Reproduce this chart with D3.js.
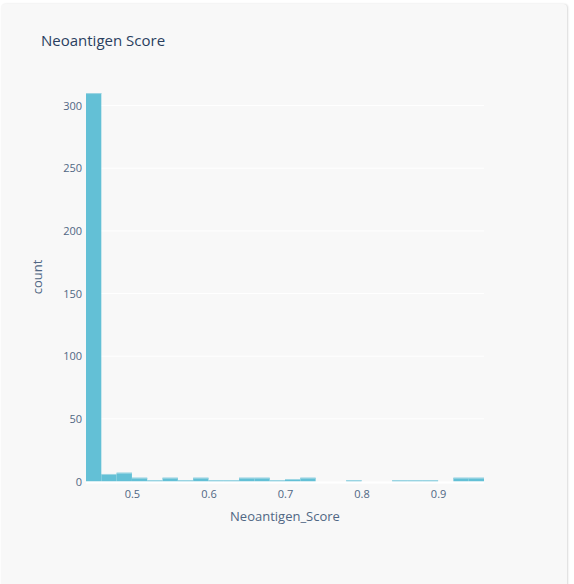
<!DOCTYPE html>
<html>
<head>
<meta charset="utf-8">
<script src="https://cdn.jsdelivr.net/npm/d3@7"></script>
<style>
  body { margin: 0; background: #fff; font-family: "Open Sans", sans-serif; }
  #card {
    position: absolute; left: 1px; top: 4px; width: 566px; height: 590px;
    background: #f8f8f8; border-radius: 4px;
    box-shadow: 1px 0 2px rgba(0,0,0,0.15);
  }
</style>
</head>
<body>
<div id="card"></div>
<script>
// histogram bins of Neoantigen_Score (bin width 0.02)
const binStart = [0.44,0.46,0.48,0.50,0.52,0.54,0.56,0.58,0.60,0.62,0.64,0.66,0.68,
                  0.70,0.72,0.74,0.76,0.78,0.80,0.82,0.84,0.86,0.88,0.90,0.92,0.94];
const counts   = [310,6,7,3,1,3,1,3,1,1,3,3,1,2,3,0,0,1,0,0,1,1,1,0,3,3];
const binWidth = 0.02;
const xTicks = [0.5,0.6,0.7,0.8,0.9];
const yTicks = [0,50,100,150,200,250,300];

const W = 574, H = 584;
const svg = d3.select("body").append("svg")
    .attr("width", W).attr("height", H)
    .style("position", "absolute").style("left", 0).style("top", 0);

const plotL = 86, plotR = 484, plotT = 73, plotB = 481.5;

let x = d3.scaleLinear().domain([0.44, 0.96]).range([plotL, plotR]);
let y = d3.scaleLinear().domain([0, 326]).range([plotB, plotT]);

// gridlines
svg.append("g").selectAll("line")
    .data(yTicks.filter(d => d > 0))
    .enter().append("line")
    .attr("x1", plotL).attr("x2", plotR)
    .attr("y1", d => y(d)).attr("y2", d => y(d))
    .attr("stroke", "#ffffff").attr("stroke-width", 1);

// bars
let bars = svg.append("g");
bars.selectAll("rect")
    .data(counts)
    .enter().append("rect")
    .attr("x", (d, i) => x(binStart[i]))
    .attr("width", (d, i) => x(binStart[i] + binWidth) - x(binStart[i]))
    .attr("y", d => y(d))
    .attr("height", d => y(0) - y(d))
    .attr("fill", "#63c0d6");

// light top edge of each bar
bars.selectAll("line")
    .data(counts.filter(d => d > 0).map((d, i) => d))
    .enter();
counts.forEach((d, i) => {
  if (d > 0) {
    bars.append("line")
      .attr("x1", x(binStart[i])).attr("x2", x(binStart[i] + binWidth))
      .attr("y1", y(d) + 0.5).attr("y2", y(d) + 0.5)
      .attr("stroke", "#9fd6e3").attr("stroke-width", 1);
  }
});

// zero line
svg.append("line")
    .attr("x1", plotL).attr("x2", plotR)
    .attr("y1", y(0) + 1).attr("y2", y(0) + 1)
    .attr("stroke", "#ffffff").attr("stroke-width", 2);

// axes
let xAxis = svg.append("g")
    .attr("transform", `translate(0,${plotB})`)
    .call(d3.axisBottom(x).tickValues(xTicks).tickSize(0).tickPadding(9).tickFormat(d3.format(".1f")));
let yAxis = svg.append("g")
    .attr("transform", `translate(${plotL},0)`)
    .call(d3.axisLeft(y).tickValues(yTicks).tickSize(0).tickPadding(4));

[xAxis, yAxis].forEach(a => {
  a.select(".domain").remove();
  a.selectAll("text")
    .attr("fill", "#506784")
    .style("font-family", "Open Sans, sans-serif")
    .style("font-size", "11px");
});

// titles
svg.append("text")
    .attr("x", 41).attr("y", 46)
    .attr("fill", "#2a3f5f")
    .style("font-size", "15px")
    .text("Neoantigen Score");

svg.append("text")
    .attr("x", 285).attr("y", 521)
    .attr("text-anchor", "middle")
    .attr("fill", "#506784")
    .style("font-size", "13px")
    .text("Neoantigen_Score");

svg.append("text")
    .attr("transform", "translate(42,277) rotate(-90)")
    .attr("text-anchor", "middle")
    .attr("fill", "#506784")
    .style("font-size", "13px")
    .text("count");
</script>
</body>
</html>
